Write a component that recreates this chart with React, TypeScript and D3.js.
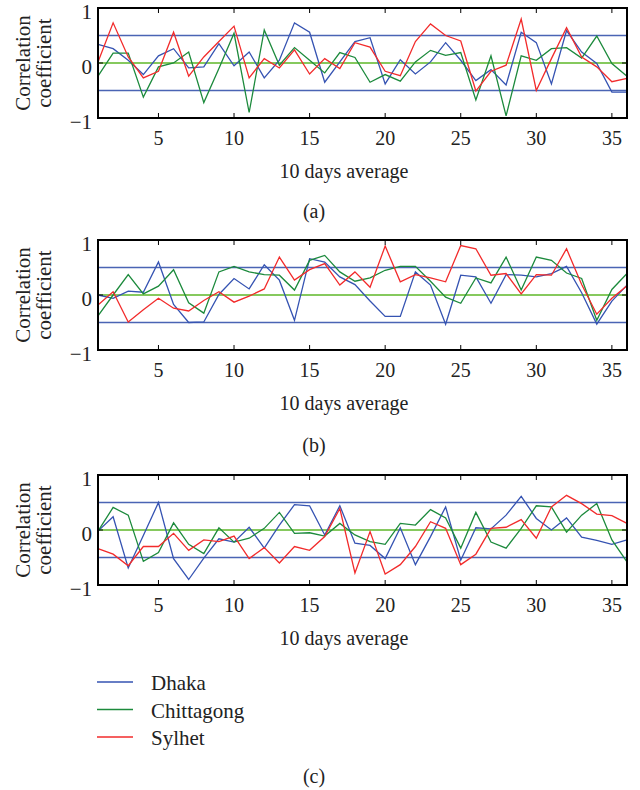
import React, { useRef, useEffect } from 'react';
import * as d3 from 'd3';

// Correlation coefficient per 10-day average (index 1..36)
const dhakaA = [0.34, 0.26, 0.05, -0.21, 0.13, 0.26, -0.09, -0.07, 0.35, -0.05, 0.2, -0.27, 0.05, 0.73, 0.56, -0.35, 0.02, 0.39, 0.46, -0.38, 0.06, -0.2, 0.02, 0.37, 0.05, -0.32, -0.12, -0.4, 0.56, 0.37, -0.38, 0.59, 0.2, -0.01, -0.53, -0.53];
const chittagongA = [-0.24, 0.18, 0.18, -0.62, -0.07, 0.0, 0.2, -0.72, -0.1, 0.54, -0.9, 0.6, -0.04, 0.28, 0.05, -0.18, 0.19, 0.1, -0.35, -0.21, -0.33, 0.02, 0.23, 0.14, 0.19, -0.67, 0.13, -0.96, 0.13, 0.05, 0.26, 0.28, 0.09, 0.49, -0.01, -0.24];
const sylhetA = [0.02, 0.73, 0.11, -0.27, -0.15, 0.56, -0.24, 0.11, 0.39, 0.67, -0.27, 0.08, -0.09, 0.24, -0.2, 0.08, -0.1, 0.37, 0.29, -0.15, -0.23, 0.39, 0.71, 0.5, 0.4, -0.51, -0.15, -0.04, 0.8, -0.5, 0.08, 0.64, 0.11, -0.07, -0.34, -0.28];

const dhakaB = [0, -0.06, 0.07, 0.05, 0.6, -0.17, -0.5, -0.49, 0.01, 0.3, 0.11, 0.55, 0.27, -0.46, 0.66, 0.6, 0.33, 0.19, -0.11, -0.39, -0.39, 0.42, 0.18, -0.53, 0.36, 0.33, -0.15, 0.37, 0.36, 0.33, 0.39, 0.52, 0.04, -0.53, -0.11, 0.18];
const chittagongB = [-0.38, 0.0, 0.37, 0.02, 0.16, 0.46, -0.14, -0.33, 0.42, 0.52, 0.42, 0.37, 0.36, 0.09, 0.63, 0.72, 0.42, 0.25, 0.31, 0.45, 0.52, 0.52, 0.25, -0.04, -0.15, 0.31, 0.22, 0.69, 0.09, 0.69, 0.63, 0.4, 0.3, -0.46, 0.1, 0.39];
const sylhetB = [-0.18, 0.06, -0.49, -0.27, -0.06, -0.24, -0.29, -0.1, 0.06, -0.13, -0.02, 0.11, 0.69, 0.27, 0.46, 0.57, 0.18, 0.42, 0.14, 0.89, 0.24, 0.37, 0.31, 0.24, 0.9, 0.84, 0.36, 0.39, 0.02, 0.37, 0.36, 0.84, 0.19, -0.35, -0.06, 0.17];

const dhakaC = [-0.02, 0.24, -0.69, -0.1, 0.5, -0.52, -0.9, -0.51, -0.16, -0.22, 0.05, -0.33, 0.09, 0.46, 0.44, -0.09, 0.44, -0.24, -0.28, -0.52, 0.04, -0.63, -0.12, 0.42, -0.55, 0.04, 0.02, 0.27, 0.61, 0.21, 0, 0.22, -0.13, -0.19, -0.26, -0.18];
const chittagongC = [-0.02, 0.41, 0.27, -0.57, -0.41, 0.13, -0.26, -0.43, 0.04, -0.22, -0.15, 0.03, 0.32, -0.06, -0.05, -0.11, 0.12, -0.09, -0.21, -0.26, 0.12, 0.09, 0.37, 0.22, -0.33, 0.32, -0.22, -0.33, 0.03, 0.44, 0.42, -0.04, 0.27, 0.48, -0.18, -0.58];
const sylhetC = [-0.34, -0.44, -0.65, -0.3, -0.3, -0.06, -0.37, -0.18, -0.21, -0.11, -0.52, -0.32, -0.6, -0.3, -0.37, -0.12, 0.39, -0.78, -0.03, -0.8, -0.63, -0.3, 0.15, 0.03, -0.63, -0.44, 0.03, 0.05, 0.19, -0.15, 0.42, 0.63, 0.48, 0.29, 0.26, 0.12];

const cities = ['Dhaka', 'Chittagong', 'Sylhet'];
const captions = ['(a)', '(b)', '(c)'];
const xTicks = [5, 10, 15, 20, 25, 30, 35];
const yTicks = [-1, 0, 1];
const yTickLabels = ['\u22121', '0', '1'];
const thresholds = [-0.5, 0.5];
const xLabel = '10 days average';
const yLabelLines = ['Correlation', 'coefficient'];

const panelSeries = [
  [dhakaA, chittagongA, sylhetA],
  [dhakaB, chittagongB, sylhetB],
  [dhakaC, chittagongC, sylhetC],
];

const WIDTH = 640;
const HEIGHT = 790;
const PLOT_LEFT = 98;
const PLOT_RIGHT = 627;
const PLOT_H = 110;
const panelTops = [8, 240, 475];
const captionYs = [218, 452, 783];
const FONT = '"Liberation Serif", "DejaVu Serif", serif';
const FONT_SIZE = 20;

const cityColors = ['#3553b2', '#1c8a3c', '#f22b2b'];
const thresholdColor = '#4a64b4';
const zeroColor = '#86c95e';
const textColor = '#222';

const App: React.FC = () => {
  const svgRef = useRef<SVGSVGElement>(null);

  useEffect(() => {
    const svg = d3.select(svgRef.current);
    svg.selectAll('*').remove();

    const x = d3.scaleLinear().domain([1, 36]).range([PLOT_LEFT, PLOT_RIGHT]);
    const y = d3.scaleLinear().domain([-1, 1]).range([PLOT_H, 0]);

    const line = d3
      .line<number>()
      .x((_, i) => x(i + 1))
      .y(d => y(d));

    const addText = (sel: any, size: number) =>
      sel.style('font-family', FONT).style('font-size', `${size}px`).attr('fill', textColor);

    panelSeries.forEach((series, p) => {
      const g = svg.append('g').attr('transform', `translate(0, ${panelTops[p]})`);

      // threshold lines
      g.selectAll('.threshold')
        .data(thresholds)
        .enter()
        .append('line')
        .attr('x1', PLOT_LEFT)
        .attr('x2', PLOT_RIGHT)
        .attr('y1', d => y(d))
        .attr('y2', d => y(d))
        .attr('stroke', thresholdColor)
        .attr('stroke-width', 1.6);

      // zero line
      g.append('line')
        .attr('x1', PLOT_LEFT)
        .attr('x2', PLOT_RIGHT)
        .attr('y1', y(0))
        .attr('y2', y(0))
        .attr('stroke', zeroColor)
        .attr('stroke-width', 2.2);

      // series
      series.forEach((values, s) => {
        g.append('path')
          .datum(values)
          .attr('d', line)
          .attr('fill', 'none')
          .attr('stroke', cityColors[s])
          .attr('stroke-width', 1.3);
      });

      // frame
      g.append('rect')
        .attr('x', PLOT_LEFT)
        .attr('y', 0)
        .attr('width', PLOT_RIGHT - PLOT_LEFT)
        .attr('height', PLOT_H)
        .attr('fill', 'none')
        .attr('stroke', '#000')
        .attr('stroke-width', 2);

      // x ticks (inward, top and bottom)
      xTicks.forEach(t => {
        g.append('line')
          .attr('x1', x(t)).attr('x2', x(t))
          .attr('y1', PLOT_H).attr('y2', PLOT_H - 5)
          .attr('stroke', '#000').attr('stroke-width', 1);
        g.append('line')
          .attr('x1', x(t)).attr('x2', x(t))
          .attr('y1', 0).attr('y2', 5)
          .attr('stroke', '#000').attr('stroke-width', 1);
        addText(
          g.append('text')
            .attr('x', x(t))
            .attr('y', PLOT_H + 27)
            .attr('text-anchor', 'middle'),
          FONT_SIZE
        ).text(String(t));
      });

      // y ticks (inward, left and right)
      yTicks.forEach((t, i) => {
        g.append('line')
          .attr('x1', PLOT_LEFT).attr('x2', PLOT_LEFT + 5)
          .attr('y1', y(t)).attr('y2', y(t))
          .attr('stroke', '#000').attr('stroke-width', 1);
        g.append('line')
          .attr('x1', PLOT_RIGHT).attr('x2', PLOT_RIGHT - 5)
          .attr('y1', y(t)).attr('y2', y(t))
          .attr('stroke', '#000').attr('stroke-width', 1);
        addText(
          g.append('text')
            .attr('x', 92)
            .attr('y', y(t) + 11)
            .attr('text-anchor', 'end'),
          FONT_SIZE + 1
        ).text(yTickLabels[i]);
      });

      // y label (two lines, rotated)
      yLabelLines.forEach((txt, i) => {
        addText(
          g.append('text')
            .attr('transform', 'rotate(-90)')
            .attr('x', -PLOT_H / 2)
            .attr('y', 30 + i * 21)
            .attr('text-anchor', 'middle'),
          FONT_SIZE + 1
        ).text(txt);
      });

      // x label
      addText(
        g.append('text')
          .attr('x', 344)
          .attr('y', PLOT_H + 60)
          .attr('text-anchor', 'middle'),
        FONT_SIZE
      ).text(xLabel);

      // caption
      addText(
        svg.append('text')
          .attr('x', 314)
          .attr('y', captionYs[p])
          .attr('text-anchor', 'middle'),
        FONT_SIZE
      ).text(captions[p]);
    });

    // Legend
    const legend = svg.append('g');
    cities.forEach((city, i) => {
      const ly = 682 + i * 27.5;
      legend.append('line')
        .attr('x1', 97).attr('x2', 133)
        .attr('y1', ly).attr('y2', ly)
        .attr('stroke', cityColors[i])
        .attr('stroke-width', 1.3);
      addText(
        legend.append('text')
          .attr('x', 151)
          .attr('y', ly + 8),
        FONT_SIZE + 1
      ).text(city);
    });
  }, []);

  return (
    <svg
      ref={svgRef}
      width={WIDTH}
      height={HEIGHT}
      style={{ position: 'absolute', left: 0, top: 0, background: '#fff' }}
    />
  );
};

export default App;
